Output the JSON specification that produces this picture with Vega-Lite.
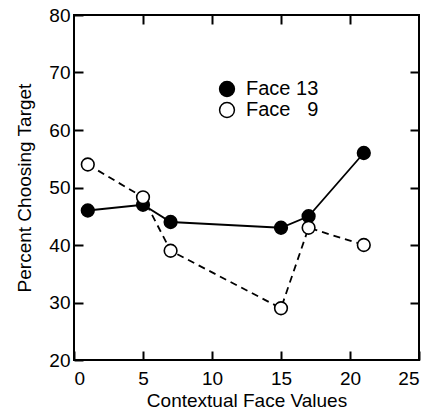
{
  "$schema": "https://vega.github.io/schema/vega-lite/v6.json",
  "autosize": "none",
  "width": 345,
  "height": 345,
  "padding": {"left": 74, "top": 15, "right": 11, "bottom": 52},
  "background": "white",
  "config": {
    "view": {"stroke": "black", "strokeWidth": 2},
    "font": "Liberation Sans",
    "axis": {"grid": false, "domain": false, "tickColor": "black", "tickWidth": 2, "labelColor": "black", "titleColor": "black", "labelFont": "Liberation Sans", "titleFont": "Liberation Sans", "labelFontSize": 19, "titleFontSize": 19, "titleFontWeight": "normal"},
    "legend": {"labelFont": "Liberation Sans", "labelFontSize": 20, "labelColor": "black"}
  },
  "data": {"values": [
    {"x": 1, "y": 46, "series": "Face 13"},
    {"x": 5, "y": 47, "series": "Face 13"},
    {"x": 7, "y": 44, "series": "Face 13"},
    {"x": 15, "y": 43, "series": "Face 13"},
    {"x": 17, "y": 45, "series": "Face 13"},
    {"x": 21, "y": 56, "series": "Face 13"},
    {"x": 1, "y": 54, "series": "Face 9"},
    {"x": 5, "y": 48.3, "series": "Face 9"},
    {"x": 7, "y": 39, "series": "Face 9"},
    {"x": 15, "y": 29, "series": "Face 9"},
    {"x": 17, "y": 43, "series": "Face 9"},
    {"x": 21, "y": 40, "series": "Face 9"}
  ]},
  "resolve": {"axis": {"x": "independent", "y": "independent"}},
  "layer": [
    {
      "transform": [{"filter": "datum.series == 'Face 13'"}],
      "mark": {"type": "line", "color": "black", "strokeWidth": 1.8},
      "encoding": {
        "x": {"field": "x", "type": "quantitative", "scale": {"domain": [0, 25], "nice": false}, "axis": {"orient": "bottom", "values": [0, 5, 10, 15, 20, 25], "tickSize": -9, "labelPadding": 18, "title": "Contextual Face Values", "titlePadding": 3}},
        "y": {"field": "y", "type": "quantitative", "scale": {"domain": [20, 80], "nice": false, "zero": false}, "axis": {"orient": "left", "values": [20, 30, 40, 50, 60, 70, 80], "tickSize": -9, "labelPadding": 13, "title": "Percent Choosing Target", "titlePadding": 14}}
      }
    },
    {
      "transform": [{"filter": "datum.series == 'Face 9'"}],
      "mark": {"type": "line", "color": "black", "strokeWidth": 1.8, "strokeDash": [7, 5]},
      "encoding": {
        "x": {"field": "x", "type": "quantitative", "axis": null},
        "y": {"field": "y", "type": "quantitative", "axis": null}
      }
    },
    {
      "mark": {"type": "point", "shape": "circle", "filled": false, "stroke": "black", "strokeWidth": 1.6, "size": 160, "opacity": 1},
      "encoding": {
        "x": {"field": "x", "type": "quantitative", "axis": {"orient": "top", "values": [5, 10, 15, 20], "tickSize": -9, "labels": false, "title": null}},
        "y": {"field": "y", "type": "quantitative", "axis": {"orient": "right", "values": [30, 40, 50, 60, 70], "tickSize": -9, "labels": false, "title": null}},
        "fill": {"field": "series", "type": "nominal", "scale": {"domain": ["Face 13", "Face 9"], "range": ["black", "white"]}, "legend": {"orient": "none", "legendX": 143, "legendY": 64, "title": null, "symbolType": "circle", "symbolSize": 220, "symbolStrokeColor": "black", "symbolStrokeWidth": 1.5, "labelOffset": 9, "rowPadding": -8, "labelExpr": "datum.label == 'Face 9' ? 'Face \u20079' : datum.label"}}
      }
    }
  ]
}
